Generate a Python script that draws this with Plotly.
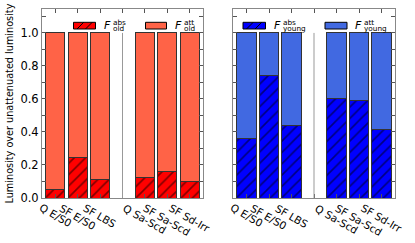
import plotly.graph_objects as go

# ---- data ----
categories = ["Q E/S0", "SF E/S0", "SF LBS", "Q Sa-Scd", "SF Sa-Scd", "SF Sd-Irr"]
positions = [0, 1, 2, 4, 5, 6]
old_abs = [0.051, 0.245, 0.112, 0.124, 0.160, 0.099]
old_att = [0.949, 0.755, 0.888, 0.876, 0.840, 0.901]
young_abs = [0.359, 0.740, 0.440, 0.600, 0.588, 0.418]
young_att = [0.641, 0.260, 0.560, 0.400, 0.412, 0.582]
ytick_vals = [0.0, 0.2, 0.4, 0.6, 0.8, 1.0]

W, H = 415, 243
FONT = "DejaVu Sans"


def px(x):
    return x / W


def py(y):
    return 1 - y / H


RED, TOMATO = "#FF0000", "#FF6347"
BLUE, ROYAL = "#0000FF", "#4169E1"
EDGE = "#333333"
BARW = 0.85

fig = go.Figure()


def add_pair(abs_vals, att_vals, c_abs, c_att, xa, ya):
    fig.add_trace(go.Bar(
        x=positions, y=abs_vals, width=BARW, xaxis=xa, yaxis=ya,
        marker=dict(color=c_abs, line=dict(color=EDGE, width=1),
                    pattern=dict(shape="/", fgcolor="black", bgcolor=c_abs,
                                 size=8, solidity=0.2, fillmode="overlay")),
        showlegend=False, hoverinfo="skip"))
    fig.add_trace(go.Bar(
        x=positions, y=att_vals, width=BARW, xaxis=xa, yaxis=ya,
        marker=dict(color=c_att, line=dict(color=EDGE, width=1)),
        showlegend=False, hoverinfo="skip"))


add_pair(old_abs, old_att, RED, TOMATO, "x", "y")
add_pair(young_abs, young_att, BLUE, ROYAL, "x2", "y2")

xdom1 = [px(42), px(203)]
xdom2 = [px(233), px(395)]
ydom = [py(198), py(9)]

SPINE = "#888888"
TICKC = "#555555"

xcommon = dict(range=[-0.6, 6.6], tickvals=list(range(7)), ticks="inside",
               ticklen=4, tickcolor=TICKC, showline=True, linecolor=SPINE,
               linewidth=1, mirror="ticks", showticklabels=False,
               showgrid=False, zeroline=False, fixedrange=True,
               automargin=False)
ycommon = dict(range=[0, 1.145], tickvals=ytick_vals, ticks="inside",
               ticklen=4, tickcolor=TICKC, showline=True, linecolor=SPINE,
               linewidth=1, mirror="ticks", showgrid=False, zeroline=False,
               minor=dict(dtick=0.1, tick0=0, ticks="inside", ticklen=4,
                          tickcolor=TICKC, showgrid=False),
               tickformat=".1f", tickfont=dict(family=FONT, size=11.5,
                                               color="black"),
               fixedrange=True, automargin=False)

fig.update_layout(
    width=W, height=H,
    margin=dict(l=0, r=0, t=0, b=0),
    paper_bgcolor="white", plot_bgcolor="white",
    barmode="stack", bargap=0,
    xaxis=dict(domain=xdom1, anchor="y", **xcommon),
    yaxis=dict(domain=ydom, anchor="x", **ycommon),
    xaxis2=dict(domain=xdom2, anchor="y2", **xcommon),
    yaxis2=dict(domain=ydom, anchor="x2", showticklabels=False, **ycommon),
)

shapes = []
# separator between the two groups
for xr, yr in (("x", "y"), ("x2", "y2")):
    shapes.append(dict(type="line", xref=xr, yref=yr, x0=3, x1=3, y0=0, y1=1,
                       line=dict(color="#999999", width=1)))

annotations = []

# category labels
for xr in ("x", "x2"):
    for p, lab in zip(positions, categories):
        annotations.append(dict(
            x=p, y=py(200), xref=xr, yref="paper", text=lab,
            showarrow=False, textangle=30, xanchor="center", yanchor="top",
            borderpad=0,
            font=dict(family=FONT, size=10.5, color="black")))

# y label
annotations.append(dict(
    x=px(9), y=py(103.5), xref="paper", yref="paper",
    text="Luminosity over unattenuated luminosity", showarrow=False,
    textangle=-90, xanchor="center", yanchor="middle", borderpad=0,
    font=dict(family=FONT, size=9.7, color="black")))

# manual legends
legend_items = [
    # box_left, box_right, F_right, script_left, color, hatched, sup, sub
    (73.5, 95.5, 111.5, 111.7, RED, True, "abs", "old"),
    (145.5, 166.5, 183.2, 183.4, TOMATO, False, "att", "old"),
    (243, 265.5, 281.5, 281.7, BLUE, True, "abs", "young"),
    (325, 347, 362.5, 362.7, ROYAL, False, "att", "young"),
]
BOX_T, BOX_B = 22.3, 29
for bl, br, fr, sl, col, hatched, sup, sub in legend_items:
    shapes.append(dict(type="rect", xref="paper", yref="paper",
                       x0=px(bl), x1=px(br), y0=py(BOX_B), y1=py(BOX_T),
                       fillcolor=col, line=dict(color="black", width=1)))
    if hatched:
        h = BOX_B - BOX_T
        for off in (3.5, 12):
            shapes.append(dict(type="line", xref="paper", yref="paper",
                               x0=px(bl + off), y0=py(BOX_B),
                               x1=px(bl + off + h), y1=py(BOX_T),
                               line=dict(color="black", width=1)))
    annotations.append(dict(
        x=px(fr), y=py(25.5), xref="paper", yref="paper", text="<i>F</i>",
        showarrow=False, xanchor="right", yanchor="middle", borderpad=0,
        font=dict(family=FONT, size=11, color="black")))
    annotations.append(dict(
        x=px(sl), y=py(22.3), xref="paper", yref="paper", text=sup,
        showarrow=False, xanchor="left", yanchor="middle", borderpad=0,
        font=dict(family=FONT, size=7.3, color="black")))
    annotations.append(dict(
        x=px(sl), y=py(28.6), xref="paper", yref="paper", text=sub,
        showarrow=False, xanchor="left", yanchor="middle", borderpad=0,
        font=dict(family=FONT, size=7.3, color="black")))

fig.update_layout(shapes=shapes, annotations=annotations)

fig.write_html(
    "out.html",
    config={"displayModeBar": False, "staticPlot": True},
    post_script=(
        "document.body.style.margin='0';"
        "document.body.style.padding='0';"
        "document.body.style.overflow='hidden';"
        "document.documentElement.style.overflow='hidden';"
    ),
)
